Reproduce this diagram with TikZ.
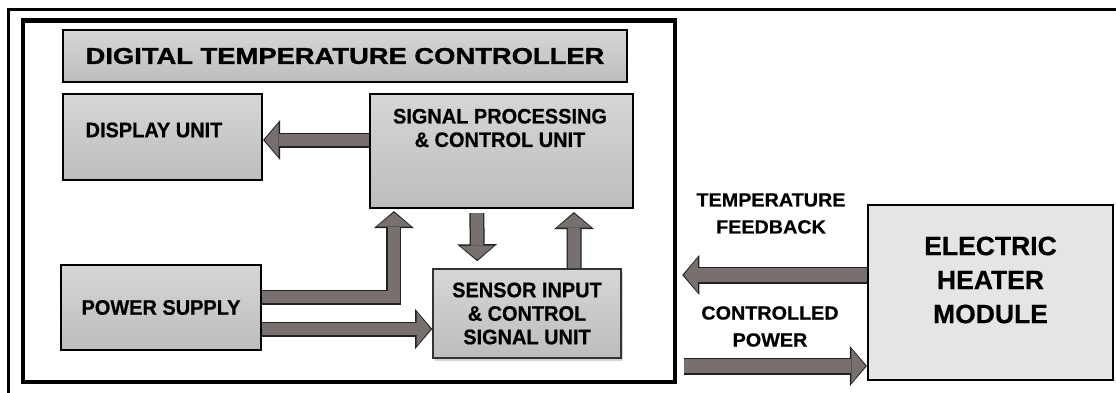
\documentclass[tikz,border=0pt]{standalone}
\usepackage{fontspec}
\setmainfont{Liberation Sans}
\newfontfamily\boxfont{Liberation Sans}[FakeStretch=0.95, FakeBold=0.6]
\newfontfamily\titlefont{Liberation Sans}[FakeStretch=1.2, FakeBold=1.4]
\newfontfamily\sidefont{Liberation Sans}[FakeStretch=1.04, FakeBold=0.6]
\newfontfamily\heaterfont{Liberation Sans}[FakeBold=0.6]
\usetikzlibrary{arrows.meta, positioning, calc, shadows}

\definecolor{boxtop}{HTML}{D6D6D6}
\definecolor{boxbottom}{HTML}{BDBDBD}
\definecolor{heaterfill}{HTML}{E5E5E5}
\definecolor{arrowfill}{HTML}{77706F}
\definecolor{arrowline}{HTML}{222222}

\begin{document}
\begin{tikzpicture}[
        x=1pt, y=1pt,
        block/.style={rectangle, draw, line width=2.2pt, top color=boxtop, bottom color=boxbottom, align=center, font=\boxfont\bfseries\fontsize{21}{23.5}\selectfont},
        blocktext/.style={align=center, font=\boxfont\bfseries\fontsize{21}{23.5}\selectfont},
        titlebox/.style={block, line width=2.5pt, minimum width=564pt, minimum height=52pt, font=\titlefont\bfseries\fontsize{22.8}{26}\selectfont},
        sensorblock/.style={block, draw=black!80, line width=1.6pt, drop shadow={shadow xshift=2pt, shadow yshift=-2.5pt, opacity=0.35}},
        heaterblock/.style={rectangle, draw, line width=2.2pt, fill=heaterfill},
        heatertext/.style={align=center, font=\heaterfont\bfseries\fontsize{26.5}{34}\selectfont},
        sidelabel/.style={align=center, font=\sidefont\bfseries\fontsize{19}{27}\selectfont},
        enclosure/.style={rectangle, draw, line width=4.5pt, minimum width=652pt, minimum height=361.5pt},
        fatarrow/.style={draw=arrowfill, line width=12.5pt, shorten >=1.5pt, -{Triangle[length=14pt, width=34pt, line width=0pt]},
            preaction={draw=arrowline, line width=15pt, shorten >=0pt, -{Triangle[length=17pt, width=40pt, line width=0pt]}}},
        widearrow/.style={draw=arrowfill, line width=14.5pt, shorten >=1.5pt, -{Triangle[length=14pt, width=34pt, line width=0pt]},
            preaction={draw=arrowline, line width=17pt, shorten >=0pt, -{Triangle[length=17pt, width=40pt, line width=0pt]}}}
    ]
    \useasboundingbox (0,0) rectangle (1116,392);

    % Outer border of the figure
    \draw[line width=3pt] (8,382.5) rectangle (1118,-6);

    % Controller enclosure and its blocks
    \node[enclosure] (ctrl) at (349,190.75) {};
    \node[titlebox] (title) at (345,336) {DIGITAL TEMPERATURE CONTROLLER};

    \node[block, minimum width=199pt, minimum height=86pt] (display) at (162.5,255) {};
    \node[blocktext] (displaytext) at ([xshift=-8.5pt, yshift=7pt]display.center) {DISPLAY UNIT};

    \node[block, minimum width=263pt, minimum height=114pt] (sigproc) at (501.5,241) {};
    \node[blocktext] (sigproctext) at ([xshift=-1.5pt, yshift=23pt]sigproc.center) {SIGNAL PROCESSING\\\& CONTROL UNIT};

    \node[block, minimum width=200pt, minimum height=85pt] (power) at (161,84.5) {POWER SUPPLY};
    \node[sensorblock, minimum width=188pt, minimum height=89pt] (sensor) at (527,78.5) {SENSOR INPUT\\\& CONTROL\\SIGNAL UNIT};

    % Heater outside the controller
    \node[heaterblock, minimum width=245pt, minimum height=175pt] (heater) at (990.5,99.5) {};
    \node[heatertext] (heatertext) at ([yshift=12.5pt]heater.center) {ELECTRIC\\HEATER\\MODULE};

    \node[sidelabel] (fblabel) at (771,178.5) {TEMPERATURE\\FEEDBACK};
    \node[sidelabel] (cplabel) at (770,65.5) {CONTROLLED\\POWER};

    % Internal arrows
    \coordinate (dispin) at ([yshift=-3pt]display.east);
    \draw[fatarrow] (sigproc.west |- dispin) -- (dispin);

    \coordinate (psup) at ([yshift=10.5pt]power.east);
    \draw[fatarrow] (psup) -| ([xshift=25pt, yshift=-2pt]sigproc.south west);

    \coordinate (psdown) at ([yshift=-21.5pt]power.east);
    \draw[fatarrow] (psdown) -- (psdown -| sensor.west);

    \draw[fatarrow] ([xshift=108pt, yshift=-4pt]sigproc.south west) -- ([xshift=45pt, yshift=7pt]sensor.north west);
    \draw[fatarrow] ([xshift=142pt]sensor.north west) -- ([xshift=205pt, yshift=-3pt]sigproc.south west);

    % Arrows between controller and heater
    \coordinate (fbstart) at ([yshift=17.5pt]heater.west);
    \draw[widearrow] (fbstart) -- ($(ctrl.east |- fbstart)+(5,0)$);

    \coordinate (cpend) at ([yshift=-73.5pt]heater.west);
    \draw[widearrow] ($(ctrl.east |- cpend)+(7,0)$) -- (cpend);

\end{tikzpicture}
\end{document}
